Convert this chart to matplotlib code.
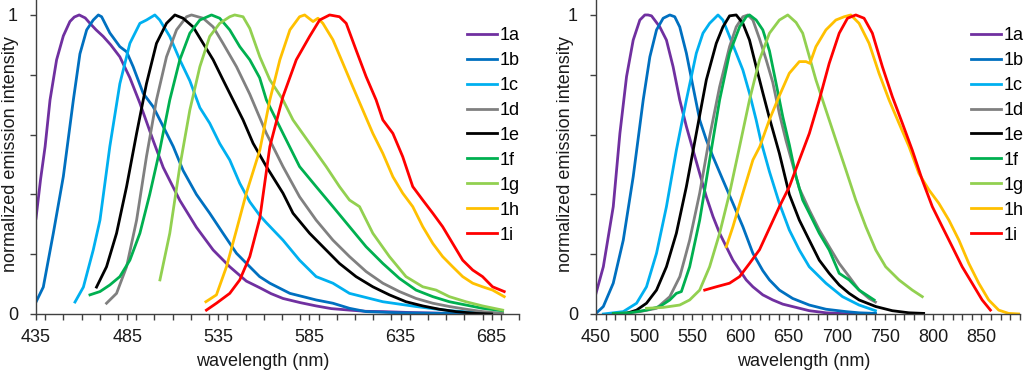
import matplotlib
matplotlib.use("Agg")
import matplotlib.pyplot as plt
from matplotlib.ticker import MultipleLocator, FixedLocator

plt.rcParams['font.family'] = ['Liberation Sans', 'DejaVu Sans']

labels = ['1a', '1b', '1c', '1d', '1e', '1f', '1g', '1h', '1i']
colors = ['#7030a0', '#0070c0', '#00b0f0', '#808080', '#000000',
          '#00b050', '#92d050', '#ffc000', '#ff0000']

# ---------------- left panel data ----------------
L_1a_wl = [435, 437.5, 440, 442.7, 446.3, 450, 453.6, 456, 458.7, 462, 464.6, 468, 471.9, 476, 481, 486.5, 492, 499.3, 504.8, 513.9, 523, 532.2, 541.3, 550.4, 557.7, 564, 570.5, 580, 588.7, 597, 607, 616, 625.3, 640, 661.8, 675, 690]
L_1a_I = [0.32, 0.45, 0.56, 0.716, 0.85, 0.93, 0.978, 0.993, 1.0, 0.99, 0.972, 0.95, 0.928, 0.9, 0.86, 0.79, 0.705, 0.58, 0.49, 0.38, 0.29, 0.214, 0.158, 0.11, 0.088, 0.068, 0.052, 0.038, 0.027, 0.018, 0.013, 0.009, 0.008, 0.005, 0.002, 0.001, 0.0]
L_1b_wl = [435, 439, 444.5, 450, 455.5, 459.1, 462.8, 466.4, 469.2, 471, 475.5, 481, 484.7, 488.3, 493.8, 499.3, 504.8, 510.3, 515.7, 523, 530.3, 537.6, 545, 552.3, 557.7, 563.3, 574.3, 588.7, 597.9, 607, 616.1, 634.4, 660, 690]
L_1b_I = [0.04, 0.09, 0.27, 0.46, 0.716, 0.87, 0.95, 0.983, 1.0, 0.994, 0.94, 0.894, 0.877, 0.827, 0.738, 0.693, 0.627, 0.56, 0.48, 0.40, 0.337, 0.27, 0.203, 0.158, 0.125, 0.103, 0.069, 0.047, 0.036, 0.019, 0.008, 0.004, 0.002, 0.0]
L_1c_wl = [456.4, 461, 466.4, 470.1, 475.5, 481, 486.5, 492, 495.6, 500.2, 502.9, 508.4, 513.9, 519.4, 524.9, 530.3, 535.8, 541.3, 546.8, 552.3, 557.7, 561.4, 570.5, 579.6, 588.7, 597.9, 607, 625.3, 643.5, 661.8, 680, 690]
L_1c_I = [0.04, 0.09, 0.214, 0.314, 0.56, 0.77, 0.905, 0.972, 0.983, 1.0, 0.983, 0.928, 0.85, 0.78, 0.69, 0.638, 0.57, 0.515, 0.437, 0.375, 0.33, 0.305, 0.247, 0.18, 0.125, 0.103, 0.069, 0.041, 0.025, 0.011, 0.004, 0.002]
L_1d_wl = [473.7, 479.2, 484.7, 490.2, 495.6, 501.1, 506.6, 512.1, 517.6, 520.3, 526.7, 532.2, 537.6, 545, 552.3, 561.4, 570.5, 579.6, 588.7, 597.9, 607, 616.1, 625.3, 634.4, 643.5, 652.7, 661.8, 670.9, 680, 691]
L_1d_I = [0.036, 0.069, 0.158, 0.314, 0.526, 0.716, 0.86, 0.95, 0.994, 1.0, 0.989, 0.96, 0.905, 0.827, 0.735, 0.604, 0.493, 0.392, 0.314, 0.247, 0.192, 0.142, 0.103, 0.075, 0.052, 0.036, 0.025, 0.016, 0.008, 0.002]
L_1e_wl = [468.2, 473.7, 479.2, 484.7, 490.2, 495.6, 501.1, 506.6, 511.2, 515.7, 521.2, 526.7, 532.2, 537.6, 543.1, 548.6, 554.1, 561.4, 570.5, 576, 585.1, 592.4, 601.5, 610.6, 619.8, 628.9, 638, 647.2, 656.3, 665.4, 676.4, 685]
L_1e_I = [0.09, 0.158, 0.27, 0.426, 0.604, 0.77, 0.905, 0.972, 1.0, 0.989, 0.96, 0.905, 0.85, 0.783, 0.716, 0.649, 0.571, 0.493, 0.404, 0.337, 0.27, 0.225, 0.169, 0.125, 0.091, 0.064, 0.041, 0.027, 0.016, 0.008, 0.002, 0.0]
L_1f_wl = [464.6, 470.1, 475.5, 481, 486.5, 492, 497.4, 502.9, 508.4, 513.9, 519.4, 524.9, 531.3, 535.8, 541.3, 546.8, 552.3, 557.7, 561.4, 570.5, 579.6, 588.7, 597.9, 607, 616.1, 625.3, 634.4, 643.5, 652.7, 661.8, 670.9, 680, 691]
L_1f_I = [0.064, 0.075, 0.097, 0.125, 0.18, 0.27, 0.40, 0.548, 0.716, 0.85, 0.939, 0.983, 1.0, 0.989, 0.95, 0.894, 0.85, 0.79, 0.716, 0.604, 0.493, 0.426, 0.359, 0.292, 0.225, 0.169, 0.119, 0.08, 0.058, 0.041, 0.03, 0.019, 0.011]
L_1g_wl = [503, 508.4, 513.9, 519.4, 524.9, 530.3, 535.8, 541.3, 544, 548.6, 552.3, 557.8, 563.3, 570.5, 576, 585.1, 594.2, 601.5, 607, 612.5, 619.8, 628.9, 638, 647.2, 654.5, 661.8, 670.9, 680, 691]
L_1g_I = [0.114, 0.27, 0.493, 0.682, 0.827, 0.928, 0.972, 0.994, 1.0, 0.994, 0.955, 0.86, 0.783, 0.716, 0.649, 0.571, 0.493, 0.426, 0.381, 0.359, 0.27, 0.192, 0.125, 0.091, 0.08, 0.058, 0.041, 0.027, 0.013]
L_1h_wl = [528.2, 534, 539.5, 545, 550.4, 557.8, 563.3, 568.8, 574.3, 579.6, 582.4, 587, 589.7, 592.4, 597.9, 603.4, 608.8, 614.3, 619.8, 625.3, 630.8, 636.2, 641.7, 647.2, 652.7, 658.1, 663.6, 669.1, 674.6, 680, 685.5, 691.9]
L_1h_I = [0.041, 0.064, 0.158, 0.281, 0.404, 0.548, 0.716, 0.85, 0.95, 0.994, 1.0, 0.978, 0.989, 0.972, 0.917, 0.838, 0.76, 0.682, 0.604, 0.537, 0.459, 0.404, 0.359, 0.292, 0.236, 0.192, 0.158, 0.125, 0.103, 0.091, 0.08, 0.058]
L_1i_wl = [528.5, 534, 541.3, 546.8, 552.3, 557.8, 563.3, 570.5, 577.8, 585.1, 590.6, 596.1, 601.5, 605.2, 610.6, 616.1, 621.6, 625.3, 630.8, 636.2, 641.7, 647.2, 652.7, 658.1, 663.6, 669.1, 674.6, 680, 685.5, 691.9]
L_1i_I = [0.013, 0.036, 0.069, 0.114, 0.192, 0.32, 0.56, 0.727, 0.85, 0.928, 0.983, 1.0, 0.994, 0.972, 0.883, 0.794, 0.716, 0.649, 0.604, 0.526, 0.426, 0.381, 0.337, 0.292, 0.236, 0.18, 0.147, 0.125, 0.091, 0.075]

# ---------------- right panel data ----------------
R_1a_wl = [450, 457.6, 467.9, 474.8, 481.7, 488.6, 495.5, 500.7, 504, 507.6, 516.2, 523.1, 530, 536.9, 543.8, 550.7, 557.6, 564.5, 571.4, 578.3, 585.2, 592.1, 599, 605.9, 612.8, 623.1, 633.4, 643.8, 657.6, 671.4, 688.6, 709.3, 740]
R_1a_I = [0.069, 0.158, 0.359, 0.604, 0.794, 0.916, 0.983, 1.0, 1.0, 0.997, 0.96, 0.916, 0.827, 0.716, 0.627, 0.548, 0.47, 0.392, 0.326, 0.27, 0.225, 0.18, 0.147, 0.114, 0.091, 0.064, 0.047, 0.033, 0.022, 0.011, 0.004, 0.001, 0.0]
R_1b_wl = [450, 457.6, 467.9, 478.3, 488.6, 499, 505.9, 512.8, 519.7, 526.6, 531.7, 536.9, 543.8, 550.7, 557.6, 564.5, 571.4, 581.7, 592.1, 602.4, 612.8, 623.1, 630, 640.3, 654.1, 671.3, 688.6, 709.3, 723, 740]
R_1b_I = [0.002, 0.025, 0.103, 0.247, 0.459, 0.716, 0.86, 0.95, 0.989, 1.0, 0.994, 0.96, 0.872, 0.76, 0.649, 0.582, 0.526, 0.448, 0.37, 0.292, 0.203, 0.145, 0.114, 0.08, 0.052, 0.03, 0.016, 0.008, 0.004, 0.002]
R_1c_wl = [457.6, 478.3, 492.1, 502.4, 512.8, 523.1, 533.4, 543.8, 554.1, 561, 567.9, 576.6, 581.7, 588.6, 595.5, 602.4, 609.3, 616.2, 621, 630, 640.3, 650.6, 661, 671.3, 688.6, 705.8, 723, 740]
R_1c_I = [0.0, 0.008, 0.036, 0.091, 0.203, 0.359, 0.548, 0.716, 0.872, 0.939, 0.972, 1.0, 0.983, 0.928, 0.872, 0.816, 0.738, 0.649, 0.58, 0.476, 0.37, 0.281, 0.214, 0.158, 0.103, 0.058, 0.03, 0.011]
R_1d_wl = [468, 495.5, 512.8, 526.6, 537, 547.2, 557.6, 567.9, 578.3, 588.6, 595.5, 602.4, 607.6, 612.8, 619.7, 626.6, 633.4, 640.3, 647.2, 654.1, 661, 671.3, 681.7, 692, 702.4, 712.7, 723, 733.4, 740]
R_1d_I = [0.0, 0.008, 0.019, 0.058, 0.125, 0.247, 0.404, 0.593, 0.76, 0.894, 0.96, 0.994, 1.0, 0.983, 0.92, 0.85, 0.775, 0.67, 0.58, 0.5, 0.42, 0.348, 0.281, 0.225, 0.169, 0.125, 0.08, 0.052, 0.04]
R_1e_wl = [468, 481.7, 492.1, 502.4, 512.8, 523.1, 533.4, 543.8, 554.1, 564.5, 574.8, 581.7, 588.6, 595.5, 602.4, 609.3, 616.2, 623.1, 630, 640.3, 650.6, 661, 671.3, 681.7, 692, 702.4, 712.7, 723, 740.3, 757.5, 774.7, 790]
R_1e_I = [0.0, 0.002, 0.013, 0.036, 0.08, 0.158, 0.27, 0.426, 0.604, 0.783, 0.905, 0.96, 0.997, 1.0, 0.972, 0.916, 0.827, 0.74, 0.655, 0.537, 0.4, 0.314, 0.247, 0.18, 0.136, 0.097, 0.069, 0.047, 0.025, 0.011, 0.004, 0.002]
R_1f_wl = [468, 485.2, 502.4, 516.2, 526.6, 533.4, 538.6, 547.2, 557.6, 567.9, 578.3, 588.6, 599, 605.9, 609.3, 616.2, 623.1, 630, 636.9, 643.8, 650.7, 657.6, 664.5, 671.4, 681.7, 692, 702.4, 712.7, 723, 738.6]
R_1f_I = [0.002, 0.004, 0.013, 0.025, 0.047, 0.069, 0.075, 0.158, 0.314, 0.515, 0.716, 0.872, 0.96, 0.994, 1.0, 0.983, 0.95, 0.88, 0.771, 0.66, 0.565, 0.459, 0.381, 0.337, 0.27, 0.214, 0.136, 0.114, 0.08, 0.047]
R_1g_wl = [502.4, 519.7, 536.9, 547.2, 557.6, 567.9, 578.3, 588.6, 599, 609.3, 619.7, 630, 640.3, 649, 657.6, 664.5, 669.7, 678.2, 688.6, 698.9, 709.3, 719.6, 730, 740.3, 750.6, 764.4, 778.2, 788.6]
R_1g_I = [0.019, 0.022, 0.03, 0.047, 0.08, 0.158, 0.27, 0.404, 0.56, 0.716, 0.85, 0.939, 0.983, 1.0, 0.975, 0.939, 0.88, 0.783, 0.682, 0.582, 0.482, 0.381, 0.292, 0.214, 0.158, 0.114, 0.08, 0.058]
R_1h_wl = [585.2, 592.1, 602.4, 612.8, 620, 630, 640.3, 650.6, 661, 667.9, 672, 678.2, 688.6, 698.9, 707.5, 714.4, 723, 733.4, 743.7, 754.1, 764.4, 774.8, 785.1, 795.5, 805.8, 816.2, 826.6, 836.9, 847.2, 857.5, 867.9, 878.2, 890]
R_1h_I = [0.225, 0.292, 0.404, 0.515, 0.56, 0.65, 0.73, 0.805, 0.844, 0.844, 0.838, 0.894, 0.95, 0.983, 0.994, 1.0, 0.972, 0.905, 0.805, 0.716, 0.638, 0.56, 0.47, 0.415, 0.37, 0.314, 0.247, 0.169, 0.103, 0.047, 0.013, 0.002, 0.0]
R_1i_wl = [562.8, 574.8, 588.6, 599, 609.3, 619.7, 630, 640.3, 650.7, 661, 671.4, 681.7, 692, 702.4, 711, 719.6, 728.2, 736.8, 747.2, 757.5, 767.9, 778.2, 788.6, 799, 809.3, 819.7, 830, 840.3, 850.7, 859.3]
R_1i_I = [0.08, 0.091, 0.103, 0.125, 0.169, 0.215, 0.287, 0.359, 0.426, 0.515, 0.604, 0.716, 0.838, 0.939, 0.989, 1.0, 0.989, 0.939, 0.827, 0.727, 0.638, 0.548, 0.448, 0.359, 0.292, 0.225, 0.158, 0.103, 0.047, 0.013]

left_series = [(L_1a_wl, L_1a_I), (L_1b_wl, L_1b_I), (L_1c_wl, L_1c_I), (L_1d_wl, L_1d_I),
               (L_1e_wl, L_1e_I), (L_1f_wl, L_1f_I), (L_1g_wl, L_1g_I), (L_1h_wl, L_1h_I),
               (L_1i_wl, L_1i_I)]
right_series = [(R_1a_wl, R_1a_I), (R_1b_wl, R_1b_I), (R_1c_wl, R_1c_I), (R_1d_wl, R_1d_I),
                (R_1e_wl, R_1e_I), (R_1f_wl, R_1f_I), (R_1g_wl, R_1g_I), (R_1h_wl, R_1h_I),
                (R_1i_wl, R_1i_I)]

left_xticklabels = [435, 485, 535, 585, 635, 685]
right_xticklabels = [450, 500, 550, 600, 650, 700, 750, 800, 850]

W, H = 1024, 373
fig = plt.figure(figsize=(W / 100, H / 100), dpi=100)

ax_color = '#404040'
txt_color = '#1a1a1a'
FS = 13


def style_axes(ax, xlim, xmajor):
    ax.set_xlim(*xlim)
    ax.set_ylim(0, 1.05)
    for s in ['top', 'right']:
        ax.spines[s].set_visible(False)
    for s in ['left', 'bottom']:
        ax.spines[s].set_color(ax_color)
        ax.spines[s].set_linewidth(1.0)
    ax.xaxis.set_major_locator(FixedLocator(xmajor))
    ax.xaxis.set_minor_locator(MultipleLocator(10))
    ax.set_xticklabels([str(v) for v in xmajor])
    ax.set_yticks([0, 0.2, 0.4, 0.6, 0.8, 1.0])
    ax.set_yticklabels(['0', '', '', '', '', '1'])
    ax.tick_params(axis='both', which='both', direction='out', length=4,
                   width=1.0, color=ax_color, labelsize=FS, labelcolor=txt_color)
    ax.tick_params(axis='x', which='major', pad=7)
    ax.tick_params(axis='y', which='major', pad=9)
    ax.set_xlabel('wavelength (nm)', fontsize=FS, color=txt_color)
    ax.set_ylabel('normalized emission intensity', fontsize=FS, color=txt_color)


axL = fig.add_axes([36 / W, 59 / H, (519 - 36) / W, 314 / H])
axR = fig.add_axes([596 / W, 59 / H, (1020 - 596) / W, 314 / H])

for (wl, I), c, lab in zip(left_series, colors, labels):
    axL.plot(wl, I, color=c, lw=2.0, label=lab)
for (wl, I), c, lab in zip(right_series, colors, labels):
    axR.plot(wl, I, color=c, lw=2.0, label=lab)

style_axes(axL, (435, 700), left_xticklabels)
style_axes(axR, (450, 890), right_xticklabels)

axL.yaxis.set_label_coords(-17 / 483, 0.51)
axR.yaxis.set_label_coords(-22 / 424, 0.51)
axL.xaxis.set_label_coords(0.47, -0.125)
axR.xaxis.set_label_coords(0.49, -0.125)

for ax, xa in [(axL, (467 - 36) / 483), (axR, (971 - 596) / 424)]:
    ax.legend(loc='upper left', bbox_to_anchor=(xa, 0.914), frameon=False,
              fontsize=FS, handlelength=1.66, handletextpad=0.17,
              labelspacing=0.44, borderpad=0, borderaxespad=0)

fig.savefig('out.png', dpi=100)
